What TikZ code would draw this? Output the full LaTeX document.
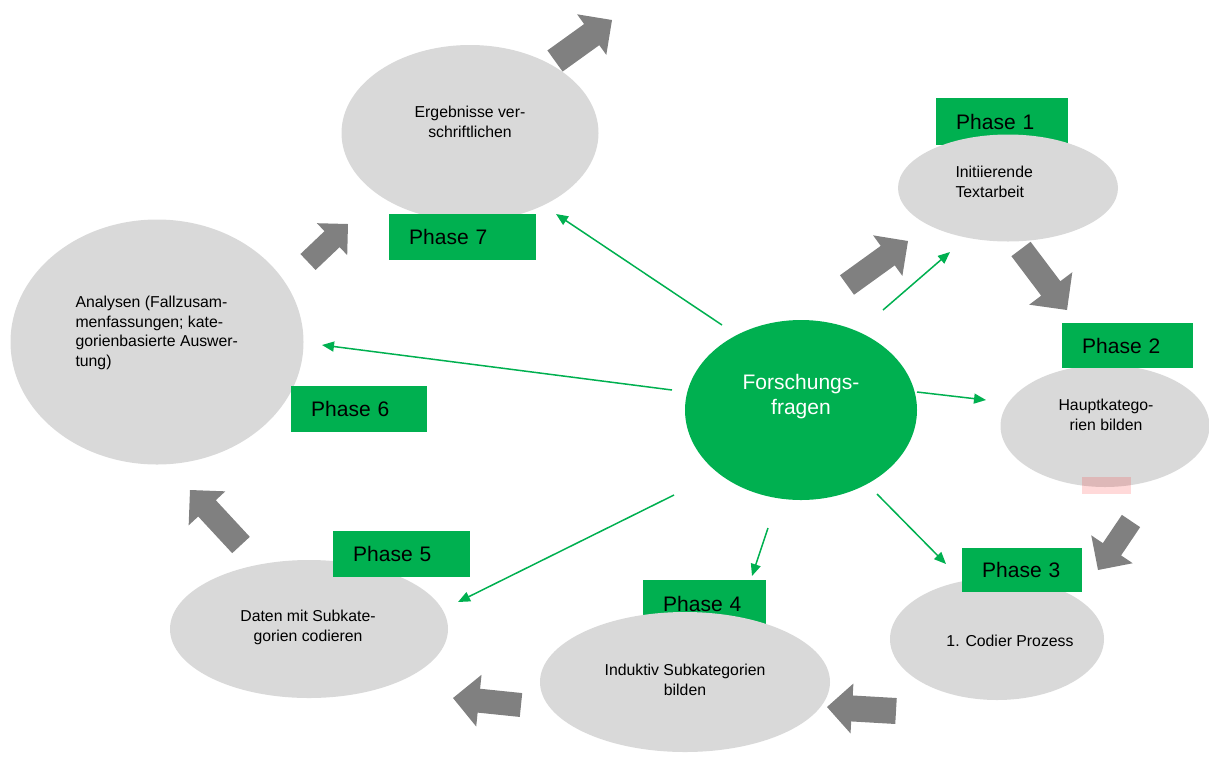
\documentclass[tikz,border=0pt]{standalone}
\usepackage{fontspec}
\setmainfont{Liberation Sans}
\usetikzlibrary{shapes.geometric,arrows.meta,calc}
\definecolor{ggreen}{RGB}{0,176,80}
\definecolor{egray}{RGB}{217,217,217}
\definecolor{agray}{RGB}{128,128,128}
\newcommand\blockarrow[5]{% name, tail, tip, half shaft, half head
  \coordinate (#1a) at #2;
  \coordinate (#1b) at #3;
  \coordinate (#1c) at ($(#1b)!#5!(#1a)$);
  \fill[agray] ($(#1a)!#4!90:(#1b)$) -- ($(#1c)!#4!90:(#1b)$) -- ($(#1c)!#5!90:(#1b)$)
    -- (#1b) -- ($(#1c)!#5!-90:(#1b)$) -- ($(#1c)!#4!-90:(#1b)$) -- ($(#1a)!#4!-90:(#1b)$) -- cycle;
}
\begin{document}
\begin{tikzpicture}[x=1pt,y=-1pt,
  ell/.style={ellipse, fill=egray, inner sep=0pt},
  phase/.style={rectangle, fill=ggreen, anchor=north west, inner xsep=20pt, inner ysep=0pt,
     align=left, font=\fontsize{21}{24}\selectfont},
  txt/.style={font=\fontsize{15.8}{20}\selectfont, align=center, text=black},
  link/.style={ggreen, line width=1.5pt, -{Triangle[length=12pt,width=10pt]}}]
\useasboundingbox (0,0) rectangle (1209,756);

% phase boxes under ellipses
\node[phase, text width=92pt, minimum height=47pt] (p1) at (936,98) {Phase 1};
\node[phase, text width=83pt, minimum height=48pt] (p4) at (643,580) {Phase 4};

% ellipses
\node[ell, minimum width=257pt, minimum height=176pt] (E) at (470,133) {};
\node[ell, minimum width=220pt, minimum height=107pt] (I) at (1008,188) {};
\node[ell, minimum width=209pt, minimum height=122pt] (H) at (1105,426) {};
\node[ell, minimum width=214pt, minimum height=122pt] (C) at (997,639) {};
\node[ell, minimum width=290pt, minimum height=140pt] (N) at (685,682) {};
\node[ell, minimum width=278pt, minimum height=138pt] (D) at (309,629) {};
\node[ell, minimum width=293pt, minimum height=245pt] (A) at (157,342) {};
\node[ellipse, fill=ggreen, inner sep=0pt, minimum width=232pt, minimum height=180pt] (F) at (801,410) {};

% phase boxes over ellipses
\node[phase, text width=91pt, minimum height=45pt] (p2) at (1062,323) {Phase 2};
\node[phase, text width=80pt, minimum height=44pt] (p3) at (962,548) {Phase 3};
\node[phase, text width=97pt, minimum height=46pt] (p5) at (333,531) {Phase 5};
\node[phase, text width=96pt, minimum height=46pt] (p6) at (291,386) {Phase 6};
\node[phase, text width=107pt, minimum height=46pt] (p7) at (389,214) {Phase 7};

% pink mark
\fill[red, opacity=0.15] (1082,477) rectangle (1131,494);

% green connectors
\coordinate (s1) at (722,325); \coordinate (t1) at (556,214);
\coordinate (s2) at (672,390); \coordinate (t2) at (322,345);
\coordinate (s3) at (883,310); \coordinate (t3) at (950,252);
\coordinate (s4) at (917,392); \coordinate (t4) at (986,400);
\coordinate (s5) at (877,494); \coordinate (t5) at (946,564);
\coordinate (s6) at (768,528); \coordinate (t6) at (752,576);
\coordinate (s7) at (674,495); \coordinate (t7) at (458,602);
\foreach \i in {1,...,7} {\draw[link] (s\i) -- (t\i);}

% gray block arrows
\blockarrow{ga}{(555,61)}{(612,20)}{13pt}{25pt}
\blockarrow{gb}{(308,262)}{(348,224)}{11pt}{22pt}
\blockarrow{gc}{(847,285)}{(908,241)}{12pt}{25pt}
\blockarrow{gd}{(1021,249)}{(1067,310)}{12pt}{27pt}
\blockarrow{ge}{(1131,521)}{(1098,570)}{11pt}{25pt}
\blockarrow{gf}{(896,711)}{(827,707)}{13pt}{25pt}
\blockarrow{gg}{(521,705)}{(453,698)}{12pt}{26pt}
\blockarrow{gh}{(241,545)}{(190,490)}{12pt}{25pt}

% texts
\node[txt] (tE) at (470,122) {Ergebnisse ver-\\schriftlichen};
\node[txt, align=left, anchor=west] (tI) at (952,182) {Initiierende\\Textarbeit};
\node[txt] (tH) at (1106,415) {Hauptkatego-\\rien bilden};
\node[txt] (tC) at (1010,641) {1. Codier Prozess};
\node[txt] (tN) at (685,680) {Induktiv Subkategorien\\bilden};
\node[txt] (tD) at (308,627) {Daten mit Subkate-\\gorien codieren};
\node[txt, align=left, anchor=west, font=\fontsize{15.8}{19.5}\selectfont] (tA) at (72,333)
  {Analysen (Fallzusam-\\menfassungen; kate-\\gorienbasierte Auswer-\\tung)};
\node[align=center, text=white, font=\fontsize{21}{25}\selectfont] (tF) at (801,397) {Forschungs-\\fragen};
\end{tikzpicture}
\end{document}
